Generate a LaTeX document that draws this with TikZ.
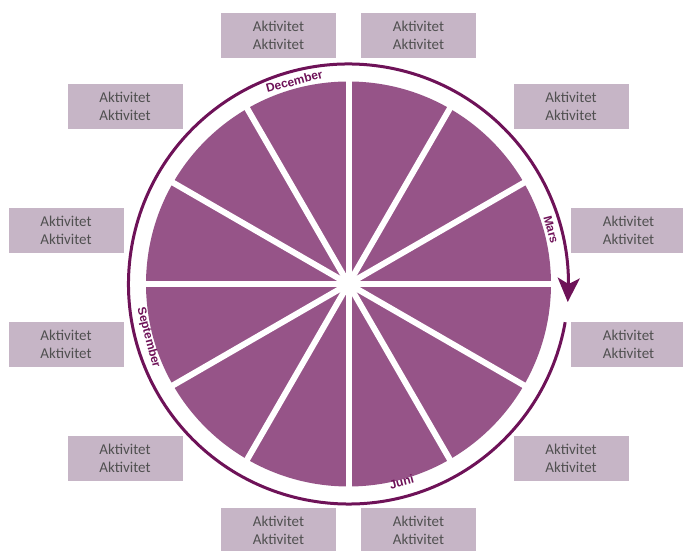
\documentclass[tikz,border=0pt]{standalone}
\usepackage{fontspec}
\setmainfont{Carlito}
\newfontfamily\monthfont{Liberation Sans}
\usetikzlibrary{arrows.meta,bending}

\definecolor{wedgepurple}{RGB}{150,84,136}
\definecolor{ringpurple}{RGB}{110,18,88}
\definecolor{boxmauve}{RGB}{198,181,198}
\definecolor{boxtext}{RGB}{80,80,80}

\tikzset{
  activity/.style={fill=boxmauve, minimum width=115pt, minimum height=45pt,
    inner sep=0pt, align=center, text=boxtext,
    font=\fontsize{15}{18}\selectfont},
  month/.style={text=ringpurple, inner sep=0pt, anchor=mid,
    font=\monthfont\bfseries\fontsize{12}{12}\selectfont}
}

\begin{document}
\begin{tikzpicture}[x=1pt,y=1pt]
        \clip (0,0) rectangle (683,551);
        \coordinate (c) at (348.5,267);

        % wheel and the white gaps between the months
        \fill[wedgepurple] (c) circle[radius=202.5];
        \draw[white, line width=6pt] ([shift={(0:210)}]c) -- ([shift={(180:210)}]c);
        \draw[white, line width=6pt] ([shift={(30:210)}]c) -- ([shift={(210:210)}]c);
        \draw[white, line width=6pt] ([shift={(60:210)}]c) -- ([shift={(240:210)}]c);
        \draw[white, line width=6pt] ([shift={(90:210)}]c) -- ([shift={(270:210)}]c);
        \draw[white, line width=6pt] ([shift={(120:210)}]c) -- ([shift={(300:210)}]c);
        \draw[white, line width=6pt] ([shift={(150:210)}]c) -- ([shift={(330:210)}]c);

        % ring with arrow
        \draw[ringpurple, line width=3pt, -{Stealth[length=24pt, width=22pt, inset=6pt]}]
            ([shift={(-10:220)}]c) arc[start angle=-10, end angle=-364.7, radius=220];

        \node[month, rotate=15] (dec) at ([shift={(105:208)}]c) {December};
        \node[month, rotate=-75] (mar) at ([shift={(15:208)}]c) {Mars};
        \node[month, rotate=15] (jun) at ([shift={(-75:207)}]c) {Juni};
        \node[month, rotate=-75] (sep) at ([shift={(195:208)}]c) {September};

        \node[activity] (b1) at (278.5, 515.5) {Aktivitet\\Aktivitet};
        \node[activity] (b2) at (418.5, 515.5) {Aktivitet\\Aktivitet};
        \node[activity] (b3) at (125, 444.5) {Aktivitet\\Aktivitet};
        \node[activity] (b4) at (571, 444.5) {Aktivitet\\Aktivitet};
        \node[activity] (b5) at (66, 320.5) {Aktivitet\\Aktivitet};
        \node[activity] (b6) at (628.5, 320.5) {Aktivitet\\Aktivitet};
        \node[activity] (b7) at (66, 206.5) {Aktivitet\\Aktivitet};
        \node[activity] (b8) at (628.5, 206.5) {Aktivitet\\Aktivitet};
        \node[activity] (b9) at (125, 92.5) {Aktivitet\\Aktivitet};
        \node[activity] (b10) at (571, 92.5) {Aktivitet\\Aktivitet};
        \node[activity] (b11) at (278.5, 20.5) {Aktivitet\\Aktivitet};
        \node[activity] (b12) at (418.5, 20.5) {Aktivitet\\Aktivitet};

    \end{tikzpicture}
\end{document}
